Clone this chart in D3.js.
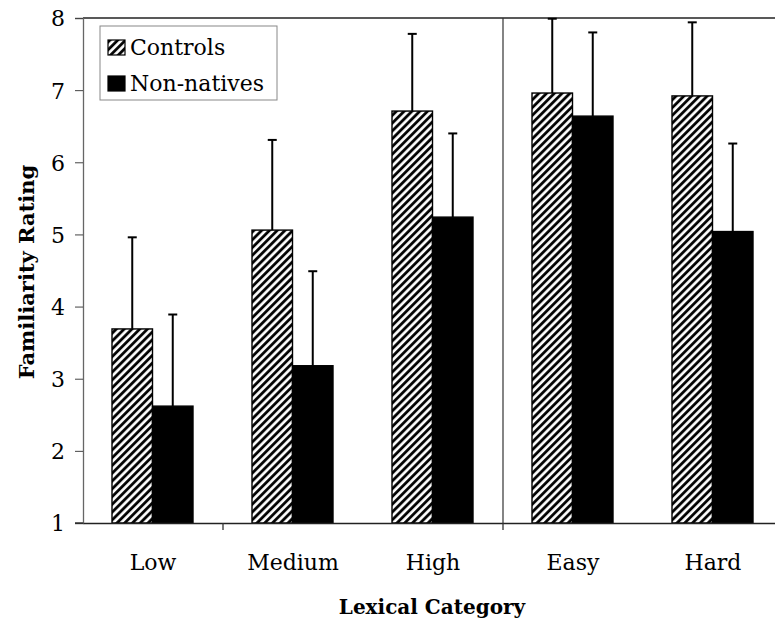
<!DOCTYPE html>
<html>
<head>
<meta charset="utf-8">
<script src="https://cdn.jsdelivr.net/npm/d3@7"></script>
<style>
  body { margin: 0; background: #fff; }
  svg text { font-family: "DejaVu Serif", "Liberation Serif", serif; fill: #000; }
</style>
</head>
<body>
<svg id="chart"></svg>
<script>
const categories = ["Low", "Medium", "High", "Easy", "Hard"];
const groups = ["Controls", "Non-natives"];
const controlsMean = [3.69, 5.06, 6.71, 6.96, 6.92];
const controlsErr = [1.27, 1.25, 1.07, 1.03, 1.02];
const nonNativesMean = [2.62, 3.18, 5.24, 6.64, 5.04];
const nonNativesErr = [1.27, 1.31, 1.16, 1.16, 1.22];
const yTicks = [1, 2, 3, 4, 5, 6, 7, 8];

const width = 775;
const height = 627;
const margin = { top: 18, right: -8, bottom: 104, left: 83 };

const svg = d3.select("#chart").attr("width", width).attr("height", height);

const rows = [];
categories.forEach((c, i) => {
    rows.push({ cat: c, group: "Controls", mean: controlsMean[i], err: controlsErr[i] });
    rows.push({ cat: c, group: "Non-natives", mean: nonNativesMean[i], err: nonNativesErr[i] });
});

// hatch pattern for controls
const defs = svg.append("defs");
defs.append("pattern").attr("id", "hatch").attr("patternUnits", "userSpaceOnUse")
    .attr("width", 5.5).attr("height", 5.5).attr("patternTransform", "rotate(45)")
    .call(p => {
        p.append("rect").attr("width", 5.5).attr("height", 5.5).attr("fill", "#fff");
        p.append("line").attr("x1", 1.5).attr("y1", 0).attr("x2", 1.5).attr("y2", 5.5)
            .attr("stroke", "#000").attr("stroke-width", 2.8);
    });

const x = d3.scaleBand().domain(categories).range([margin.left, width - margin.right]);
const xSub = d3.scaleBand().domain(groups).range([29, 110]);
const y = d3.scaleLinear().domain([1, 8]).range([height - margin.bottom, margin.top]);

const fillFor = g => g === "Controls" ? "url(#hatch)" : "#000";

// top frame and divider between the two category sets
svg.append("line").attr("x1", margin.left).attr("x2", width).attr("y1", y(8)).attr("y2", y(8))
    .attr("stroke", "#222").attr("stroke-width", 1.3);
svg.append("line").attr("x1", x("Easy")).attr("x2", x("Easy")).attr("y1", y(8)).attr("y2", y(1))
    .attr("stroke", "#333").attr("stroke-width", 1.2);

// bars
svg.append("g").selectAll("rect").data(rows).enter().append("rect")
    .attr("x", d => x(d.cat) + xSub(d.group))
    .attr("y", d => y(d.mean))
    .attr("width", xSub.bandwidth())
    .attr("height", d => y(1) - y(d.mean))
    .attr("fill", d => fillFor(d.group))
    .attr("stroke", "#000").attr("stroke-width", 1.4);

// error bars (upper only)
const errG = svg.append("g").attr("stroke", "#000").attr("stroke-width", 2);
errG.selectAll(".stem").data(rows).enter().append("line")
    .attr("x1", d => x(d.cat) + xSub(d.group) + xSub.bandwidth() / 2)
    .attr("x2", d => x(d.cat) + xSub(d.group) + xSub.bandwidth() / 2)
    .attr("y1", d => y(d.mean)).attr("y2", d => y(d.mean + d.err));
errG.selectAll(".cap").data(rows).enter().append("line")
    .attr("x1", d => x(d.cat) + xSub(d.group) + xSub.bandwidth() / 2 - 4.5)
    .attr("x2", d => x(d.cat) + xSub(d.group) + xSub.bandwidth() / 2 + 4.5)
    .attr("y1", d => y(d.mean + d.err)).attr("y2", d => y(d.mean + d.err));

// y axis
const yAxis = svg.append("g").attr("transform", `translate(${margin.left},0)`)
    .call(d3.axisLeft(y).tickValues(yTicks).tickSize(8).tickPadding(10).tickFormat(d3.format("d")));
yAxis.select(".domain").attr("stroke", "#666").attr("stroke-width", 1.3);
yAxis.selectAll(".tick line").attr("stroke", "#444");
yAxis.selectAll(".tick text").style("font-size", "22px").attr("dy", "0.36em");

// x axis
const xAxis = svg.append("g").attr("transform", `translate(0,${y(1)})`)
    .call(d3.axisBottom(x).tickSize(0).tickPadding(31));
xAxis.select(".domain").attr("stroke", "#222").attr("stroke-width", 1.3);
xAxis.selectAll(".tick text").style("font-size", "22px");
svg.append("line").attr("x1", margin.left - 8).attr("x2", margin.left).attr("y1", y(1)).attr("y2", y(1))
    .attr("stroke", "#222").attr("stroke-width", 1.3);
svg.append("g").selectAll("line").data(["Medium", "Easy"]).enter().append("line")
    .attr("x1", d => x(d)).attr("x2", d => x(d))
    .attr("y1", y(1)).attr("y2", y(1) + 7).attr("stroke", "#333").attr("stroke-width", 1.3);

// axis titles
svg.append("text").attr("x", 432).attr("y", 614).attr("text-anchor", "middle")
    .style("font-size", "20px").style("font-weight", "bold").text("Lexical Category");
svg.append("text").attr("transform", `translate(34,272) rotate(-90)`).attr("text-anchor", "middle")
    .style("font-size", "21px").style("font-weight", "bold").text("Familiarity Rating");

// legend
const legend = svg.append("g");
legend.append("rect").attr("x", 100).attr("y", 26).attr("width", 177).attr("height", 74)
    .attr("fill", "#fff").attr("stroke", "#888").attr("stroke-width", 1);
const item = legend.selectAll(".item").data(groups).enter().append("g")
    .attr("transform", (d, i) => `translate(108,${40 + i * 36})`);
item.append("rect").attr("width", 17).attr("height", 15)
    .attr("fill", d => fillFor(d)).attr("stroke", "#000").attr("stroke-width", 1.2);
item.append("text").attr("x", 22).attr("y", 15)
    .style("font-family", "'DejaVu Serif', serif").style("font-size", "22px").text(d => d);
</script>
</body>
</html>
